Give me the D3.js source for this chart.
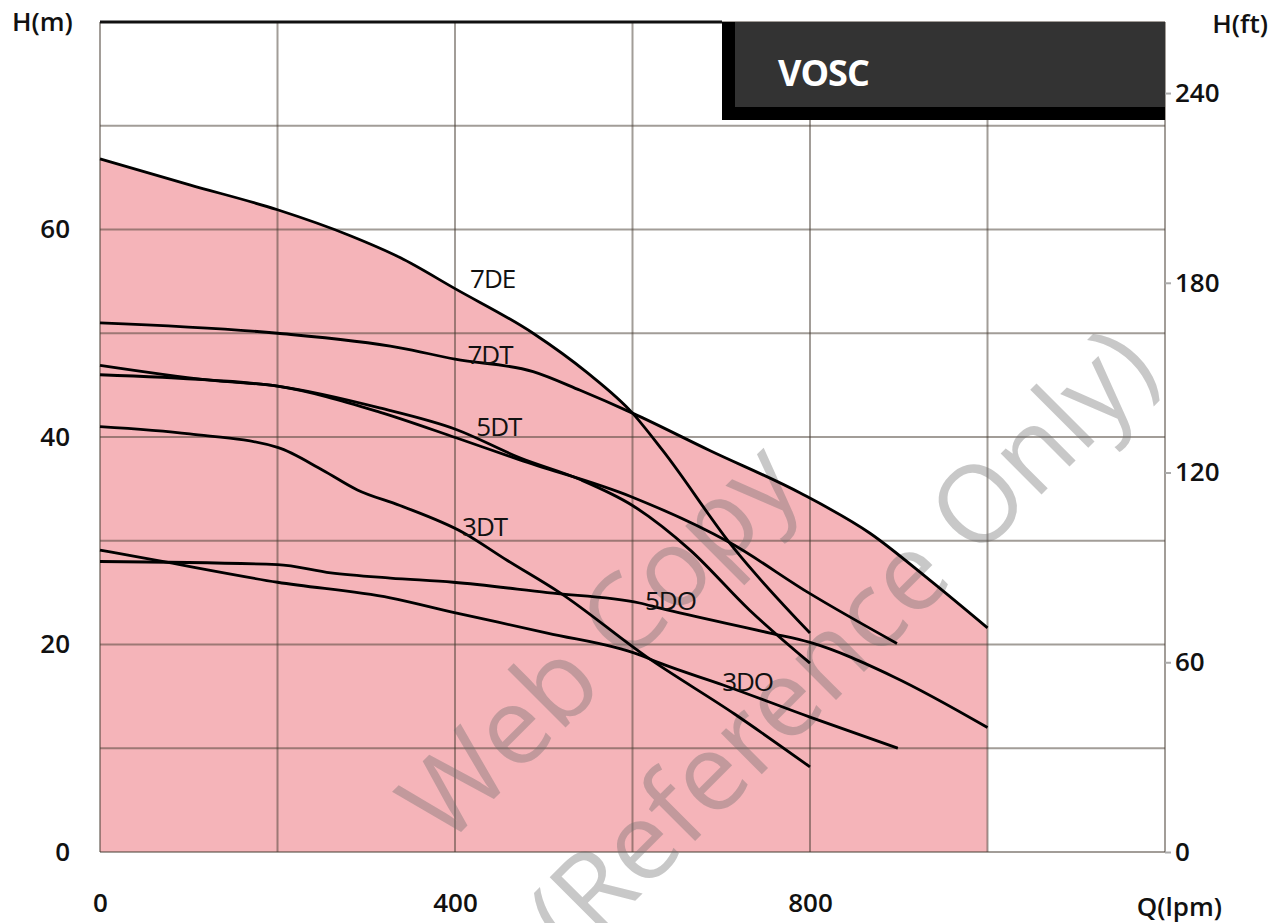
<!DOCTYPE html>
<html><head><meta charset="utf-8">
<script src="https://cdn.jsdelivr.net/npm/d3@7"></script>
<style>
html,body{margin:0;padding:0;background:#fff;}
svg text{font-family:"Open Sans",sans-serif;}
</style></head>
<body><svg id="c" width="1273" height="923"></svg>
<script>
// ---- data ----
const q7DE = [0, 101, 200, 282, 338, 400, 488, 549, 600, 634, 713, 800];
const h7DE = [66.8, 64.3, 61.9, 59.4, 57.3, 54.3, 50.0, 46.2, 42.3, 38.7, 29.4, 21.1];
const q7DT = [0, 200, 338, 400, 488, 541, 600, 687, 789, 868, 935, 1000];
const h7DT = [51.0, 50.0, 48.6, 47.5, 46.3, 44.5, 42.3, 38.7, 34.6, 30.7, 26.2, 21.6];
const q5DT = [0, 121, 200, 315, 402, 473, 541, 600, 665, 732, 800];
const h5DT = [46.9, 45.5, 44.9, 42.8, 40.7, 38.0, 35.9, 33.4, 29.1, 23.3, 18.2];
const q5DTb = [0, 121, 200, 315, 402, 473, 600, 710, 800, 898];
const h5DTb = [46.0, 45.5, 44.9, 42.4, 39.9, 37.8, 34.2, 29.8, 24.9, 20.1];
const q3DT = [0, 101, 200, 251, 290, 338, 409, 459, 518, 616, 715, 800];
const h3DT = [41.0, 40.3, 39.0, 36.8, 34.9, 33.4, 30.8, 28.1, 25.0, 18.8, 13.3, 8.2];
const q5DO = [0, 200, 260, 327, 398, 504, 608, 631, 755, 800, 894, 1000];
const h5DO = [28.0, 27.7, 26.9, 26.4, 26.0, 25.0, 24.0, 23.5, 21.1, 20.2, 16.9, 12.0];
const q3DO = [0, 64, 200, 327, 398, 504, 608, 631, 702, 800, 899];
const h3DO = [29.1, 28.1, 26.0, 24.5, 23.1, 21.1, 19.0, 18.2, 16.1, 13.0, 10.0];

const labelNames = ["7DE", "7DT", "5DT", "3DT", "5DO", "3DO"];
const labelQ = [417, 414, 424, 408, 614, 701];
const labelH = [54.4, 47.0, 40.1, 30.5, 23.3, 15.5];

const xTicks = [0, 400, 800];
const yTicksM = [0, 20, 40, 60];
const yTicksFt = [0, 60, 120, 180, 240];
const title = "VOSC";
const watermark = ["Web Copy", "(Reference Only)"];

// ---- layout ----
const svg = d3.select("#c");
const x = d3.scaleLinear().domain([0, 1200]).range([100, 1165]);
const y = d3.scaleLinear().domain([0, 80]).range([852, 22]);
const yFt = d3.scaleLinear().domain([0, 80 * 3.28084]).range([852, 22]);

const zip = (qs, hs) => qs.map((q, i) => [q, hs[i]]);
const curves = [
  zip(q7DE, h7DE), zip(q7DT, h7DT), zip(q5DT, h5DT), zip(q5DTb, h5DTb),
  zip(q3DT, h3DT), zip(q5DO, h5DO), zip(q3DO, h3DO)
];

// fill (union of areas under the two top curves)
const area = d3.area().x(d => x(d[0])).y0(y(0)).y1(d => y(d[1])).curve(d3.curveMonotoneX);
[curves[0], curves[1]].forEach(c => {
  svg.append("path").attr("d", area(c)).attr("fill", "#f5b4b9");
});

// grid
const gridC = "rgba(70,60,50,0.5)";
d3.range(0, 1201, 200).forEach(q => {
  svg.append("line").attr("x1", x(q)).attr("x2", x(q)).attr("y1", y(0)).attr("y2", y(80))
    .attr("stroke", gridC).attr("stroke-width", 2);
});
d3.range(0, 81, 10).forEach(h => {
  svg.append("line").attr("x1", x(0)).attr("x2", x(1200)).attr("y1", y(h)).attr("y2", y(h))
    .attr("stroke", gridC).attr("stroke-width", 2);
});
// top border black
svg.append("line").attr("x1", x(0)).attr("x2", 722).attr("y1", y(80)).attr("y2", y(80))
  .attr("stroke", "#111").attr("stroke-width", 3);

// watermark
const wm = svg.append("g").attr("fill", "rgba(110,110,110,0.38)").attr("font-weight", 400)
  .attr("font-size", 108).attr("text-anchor", "middle");
wm.append("text").attr("transform", "translate(625,668) rotate(-45)").text(watermark[0]);
wm.append("text").attr("transform", "translate(868,668) rotate(-45)").text(watermark[1]);

// curves
const line = d3.line().x(d => x(d[0])).y(d => y(d[1])).curve(d3.curveMonotoneX);
curves.forEach(c => {
  svg.append("path").attr("d", line(c)).attr("fill", "none").attr("stroke", "#000")
    .attr("stroke-width", 2.8).attr("stroke-linejoin", "round");
});

// curve labels
labelNames.forEach((n, i) => {
  svg.append("text").attr("x", x(labelQ[i])).attr("y", y(labelH[i]))
    .attr("font-size", 26).attr("fill", "#111").attr("letter-spacing", -1).text(n);
});

// title box
svg.append("rect").attr("x", 722).attr("y", 22).attr("width", 1165 - 722).attr("height", 98).attr("fill", "#000");
svg.append("rect").attr("x", 735).attr("y", 22).attr("width", 1165 - 735).attr("height", 85).attr("fill", "#333");
svg.append("text").attr("x", 778).attr("y", 86).attr("fill", "#fff").attr("font-size", 36)
  .attr("font-weight", 700).attr("letter-spacing", -1).text(title);

// axes
const axFont = g => g.selectAll("text").attr("font-size", 26).attr("font-weight", 600).attr("fill", "#111");
const gl = svg.append("g").attr("transform", `translate(${x(0)},0)`)
  .call(d3.axisLeft(y).tickValues(yTicksM).tickSize(0).tickPadding(30));
gl.select(".domain").remove(); axFont(gl);
const gr = svg.append("g").attr("transform", `translate(${x(1200)},0)`)
  .call(d3.axisRight(yFt).tickValues(yTicksFt).tickSize(6).tickPadding(4));
gr.select(".domain").remove(); gr.selectAll("line").attr("stroke", "#aaa").attr("stroke-width", 2); axFont(gr);
const gb = svg.append("g").attr("transform", `translate(0,${y(0)})`)
  .call(d3.axisBottom(x).tickValues(xTicks).tickSize(0).tickPadding(42));
gb.select(".domain").remove(); axFont(gb);

// unit labels
const unit = (tx, ty, t, anchor) => svg.append("text").attr("x", tx).attr("y", ty)
  .attr("font-size", 26).attr("font-weight", 600).attr("fill", "#111").attr("text-anchor", anchor).text(t);
unit(12, 31, "H(m)", "start");
unit(1268, 33, "H(ft)", "end");
unit(1222, 916, "Q(lpm)", "end");
</script></body></html>
